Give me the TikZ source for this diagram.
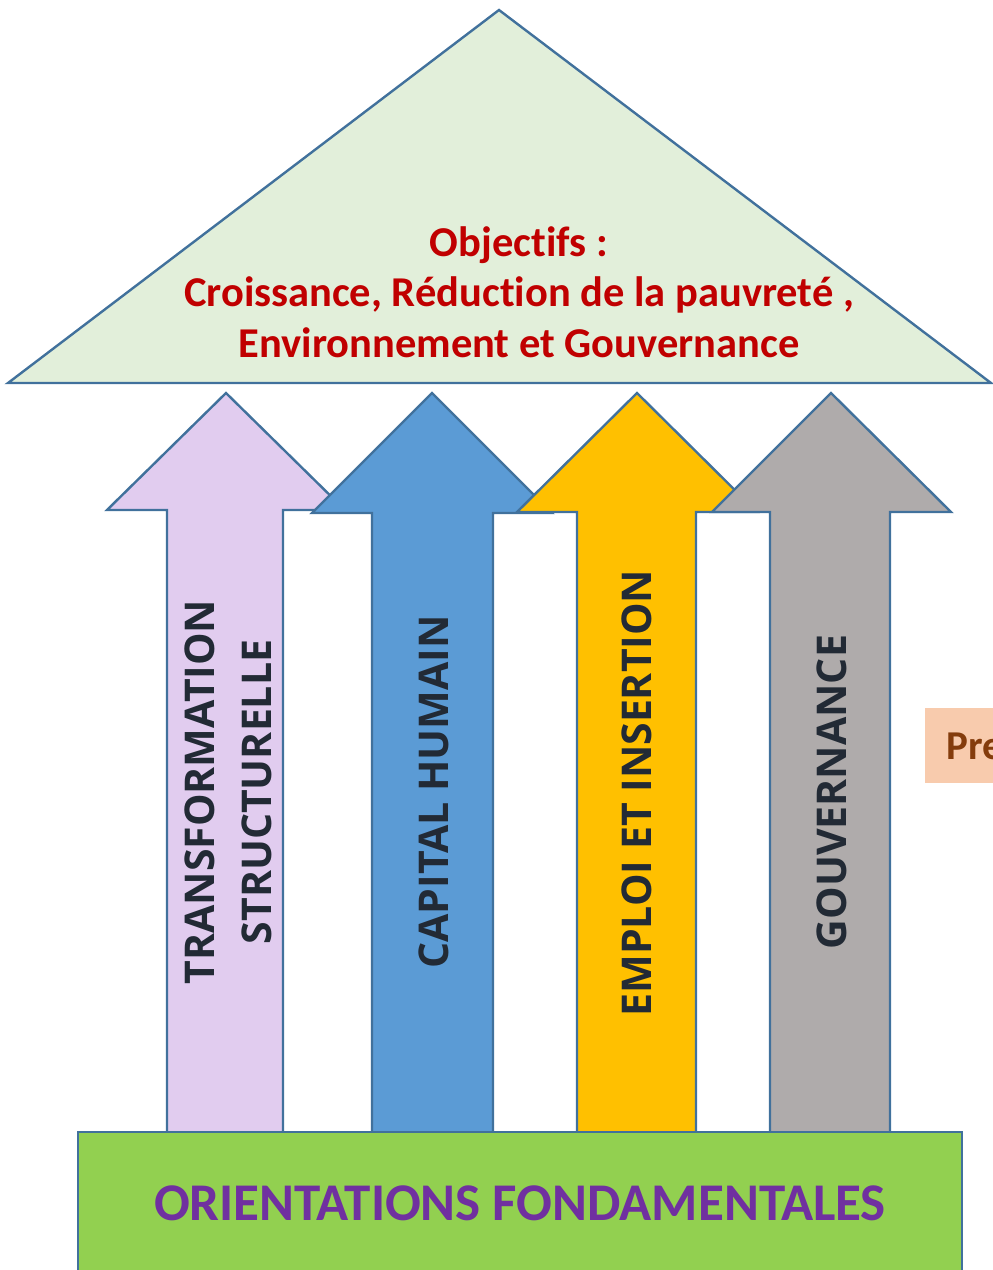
\documentclass[tikz,border=0pt]{standalone}
\usepackage{fontspec}
\setmainfont{Carlito}[Ligatures=NoCommon]
\newfontfamily\arrowfont{Open Sans}
\definecolor{edge}{HTML}{41719C}
\definecolor{roofgreen}{HTML}{E2EFDA}
\definecolor{lilac}{HTML}{E1CCEF}
\definecolor{bluearr}{HTML}{5B9BD5}
\definecolor{yellowarr}{HTML}{FFC000}
\definecolor{grayarr}{HTML}{AFABAB}
\definecolor{basegreen}{HTML}{92D050}
\definecolor{darkred}{HTML}{C00000}
\definecolor{purp}{HTML}{7030A0}
\definecolor{slate}{HTML}{222A35}
\definecolor{peach}{HTML}{F8CBAD}
\definecolor{brownt}{HTML}{843C0C}
\begin{document}
\begin{tikzpicture}[x=1pt,y=-1pt,
  shape outline/.style={draw=edge,line width=2.4pt,line join=miter},
  arrowtext/.style={rotate=90,text=slate,font=\arrowfont\bfseries\fontsize{41}{57}\selectfont,align=center,inner sep=0pt},
  rooftext/.style={text=darkred,font=\bfseries\fontsize{42.5}{50.5}\selectfont,align=center,inner sep=0pt},
  basetext/.style={text=purp,font=\bfseries\fontsize{53}{60}\selectfont,inner sep=0pt},
  sidetext/.style={text=brownt,font=\bfseries\fontsize{41}{44}\selectfont,inner sep=0pt,anchor=west}]
\useasboundingbox (0,0) rectangle (993,1270);
\clip (0,0) rectangle (993,1270);
% roof
\draw[shape outline,fill=roofgreen] (499,10) -- (991,383) -- (8,383) -- cycle;
\node[rooftext] (roof) at (519,292) {Objectifs :\\Croissance, Réduction de la pauvreté ,\\Environnement et Gouvernance};
% arrows
\draw[shape outline,fill=lilac] (167,1140) -- (167,510) -- (107,510) -- (226,393) -- (345,510) -- (283,510) -- (283,1140) -- cycle;
\draw[shape outline,fill=bluearr] (372,1140) -- (372,513) -- (312,513) -- (432,393) -- (552,513) -- (493,513) -- (493,1140) -- cycle;
\draw[shape outline,fill=yellowarr] (577,1140) -- (577,512) -- (517,512) -- (637,393) -- (757,512) -- (696,512) -- (696,1140) -- cycle;
\draw[shape outline,fill=grayarr] (770,1140) -- (770,512) -- (712,512) -- (831,393) -- (951,512) -- (890,512) -- (890,1140) -- cycle;
\node[arrowtext] (a1) at (228,792) {TRANSFORMATION\\STRUCTURELLE};
\node[arrowtext] (a2) at (434,792) {CAPITAL HUMAIN};
\node[arrowtext] (a3) at (637,793) {EMPLOI ET INSERTION};
\node[arrowtext] (a4) at (832,792) {GOUVERNANCE};
% base
\draw[shape outline,fill=basegreen] (78,1132) rectangle (962,1280);
\node[basetext] (base) at (520,1203) {ORIENTATIONS FONDAMENTALES};
% side box
\fill[peach] (925,708) rectangle (1000,783);
\node[sidetext] (side) at (946,746) {Pre};
\end{tikzpicture}
\end{document}
